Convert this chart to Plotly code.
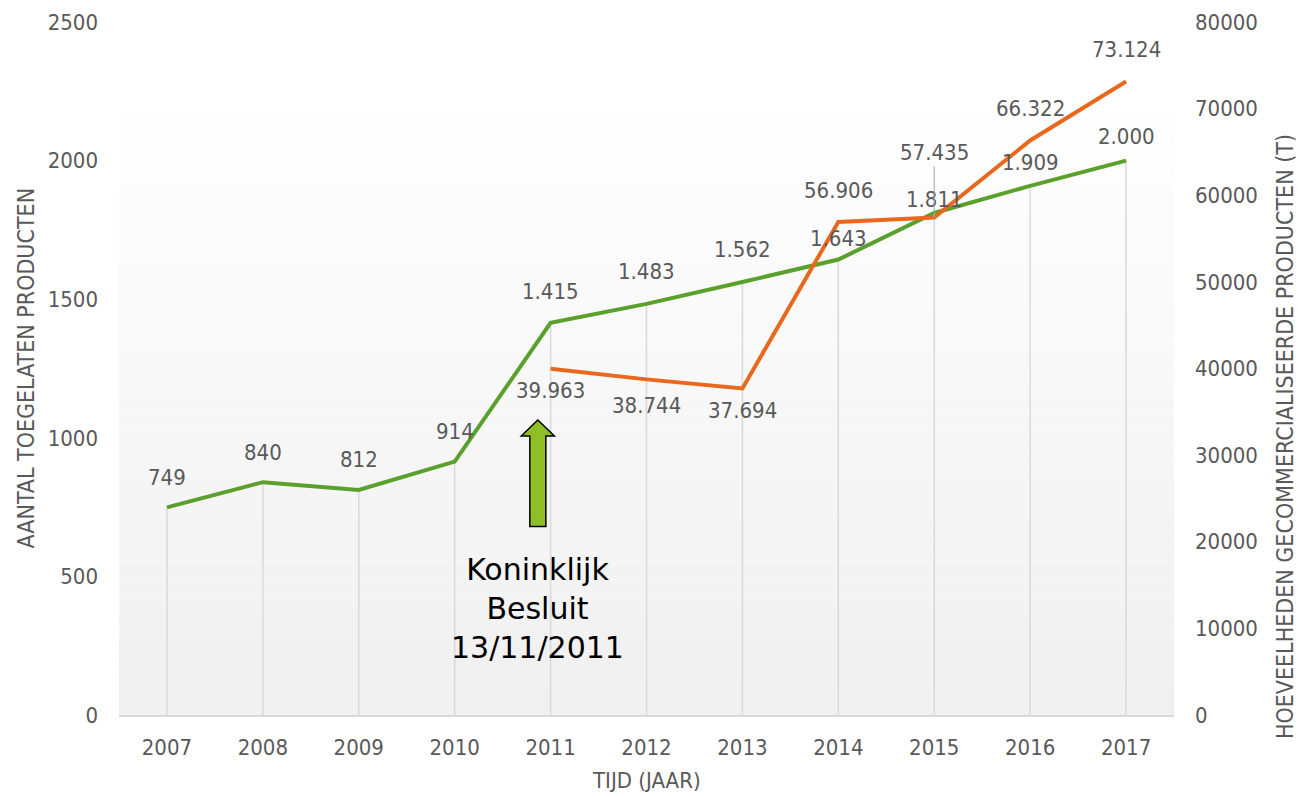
import plotly.graph_objects as go

years = ["2007", "2008", "2009", "2010", "2011", "2012", "2013", "2014", "2015", "2016", "2017"]
toegelaten = [749, 840, 812, 914, 1415, 1483, 1562, 1643, 1811, 1909, 2000]
hoeveelheid_years = ["2011", "2012", "2013", "2014", "2015", "2016", "2017"]
hoeveelheid = [39963, 38744, 37694, 56906, 57435, 66322, 73124]

left_ticks = [0, 500, 1000, 1500, 2000, 2500]
right_ticks = [0, 10000, 20000, 30000, 40000, 50000, 60000, 70000, 80000]

# label pixel offsets (style)
green_shift = [30, 30, 30, 30, 31, 32, 33, 21, 13, 23, 24]
orange_shift = [-22, -26, -22, 32, 65, 32, 32]

GREEN = "#5aa02c"
ORANGE = "#e8691e"
GRAY_TXT = "#595959"
COND = "DejaVu Sans Condensed, DejaVu Sans, sans-serif"
LABEL_FONT = dict(family=COND, size=22, color=GRAY_TXT)

def fmt(v):
    return f"{v:,}".replace(",", ".")

fig = go.Figure()

# gradient background bands
nb = 40
top = 0.87
shapes = []
for i in range(nb):
    y0 = top * i / nb
    y1 = top * (i + 1) / nb
    t = i / (nb - 1)
    c = int(round(240 + (254 - 240) * t))
    shapes.append(dict(type="rect", xref="paper", yref="paper", x0=0, x1=1, y0=y0, y1=y1,
                       fillcolor=f"rgb({c},{c},{c})", line=dict(width=0), layer="below"))

# drop lines
dx, dy = [], []
for yr, v in zip(years, toegelaten):
    dx += [yr, yr, None]
    dy += [0, v, None]
fig.add_trace(go.Scatter(x=dx, y=dy, mode="lines", line=dict(color="#d9d9d9", width=1.5),
                         hoverinfo="skip", showlegend=False, connectgaps=False))

fig.add_trace(go.Scatter(x=years, y=toegelaten, mode="lines", line=dict(color=GREEN, width=4),
                         name="Aantal toegelaten producten", showlegend=False))
fig.add_trace(go.Scatter(x=hoeveelheid_years, y=hoeveelheid, mode="lines", yaxis="y2",
                         line=dict(color=ORANGE, width=4),
                         name="Hoeveelheden", showlegend=False))

annotations = []
for yr, v, s in zip(years, toegelaten, green_shift):
    annotations.append(dict(x=years.index(yr), y=v, xref="x", yref="y", text=fmt(v), showarrow=False,
                            yshift=s, xanchor="center", yanchor="middle", font=LABEL_FONT))
for yr, v, s in zip(hoeveelheid_years, hoeveelheid, orange_shift):
    xi = years.index(yr)
    if s > 50:
        annotations.append(dict(x=xi, y=v, xref="x", yref="y2", text=fmt(v), showarrow=True,
                                arrowhead=0, arrowwidth=1, arrowcolor="#a6a6a6", ax=0, ay=-s,
                                standoff=0, font=LABEL_FONT))
    else:
        annotations.append(dict(x=xi, y=v, xref="x", yref="y2", text=fmt(v), showarrow=False,
                                yshift=s, xanchor="center", yanchor="middle", font=LABEL_FONT))

# Koninklijk Besluit annotation
annotations.append(dict(x=0.397, y=0.154, xref="paper", yref="paper", showarrow=False,
                        xanchor="center", yanchor="middle",
                        text="Koninklijk<br>Besluit<br>13/11/2011",
                        font=dict(family="DejaVu Sans, sans-serif", size=30, color="#000000"),
                        align="center"))

# axis titles
annotations.append(dict(x=0, y=0.5, xref="paper", yref="paper", xshift=-94, showarrow=False,
                        xanchor="center", yanchor="middle",
                        text="AANTAL TOEGELATEN PRODUCTEN", textangle=-90,
                        font=dict(family=COND, size=23, color=GRAY_TXT)))
annotations.append(dict(x=1, y=0.401, xref="paper", yref="paper", xshift=111, showarrow=False,
                        xanchor="center", yanchor="middle",
                        text="HOEVEELHEDEN GECOMMERCIALISEERDE PRODUCTEN (T)", textangle=-90,
                        font=dict(family=COND, size=23, color=GRAY_TXT)))
annotations.append(dict(x=0.5, y=0, xref="paper", yref="paper", yshift=-65, showarrow=False,
                        xanchor="center", yanchor="middle",
                        text="TIJD (JAAR)", font=dict(family=COND, size=22, color=GRAY_TXT)))

# block arrow
cx = 0.397
tip, base, bottom = 0.4257, 0.4026, 0.272
hw, sw = 0.0157, 0.0076
path = (f"M {cx} {tip} L {cx+hw} {base} L {cx+sw} {base} L {cx+sw} {bottom} "
        f"L {cx-sw} {bottom} L {cx-sw} {base} L {cx-hw} {base} Z")
shapes.append(dict(type="path", xref="paper", yref="paper", path=path,
                   fillcolor="#8fbf26", line=dict(color="#000000", width=1.5), layer="above"))

fig.update_layout(
    width=1299, height=797,
    margin=dict(l=119, r=125, t=22, b=82, autoexpand=False),
    paper_bgcolor="white", plot_bgcolor="white",
    shapes=shapes, annotations=annotations,
    xaxis=dict(type="category", categoryorder="array", categoryarray=years,
               range=[-0.5, len(years) - 0.5], showgrid=False, showline=True,
               linecolor="#d9d9d9", linewidth=1.5,
               ticks="", ticklabelstandoff=12, zeroline=False,
               tickfont=dict(family=COND, size=22, color=GRAY_TXT)),
    yaxis=dict(range=[0, 2500], tickvals=left_ticks, ticktext=[str(t) for t in left_ticks],
               showgrid=False, zeroline=False,
               showline=False, ticks="", ticklabelstandoff=20,
               tickfont=dict(family=COND, size=22, color=GRAY_TXT)),
    yaxis2=dict(range=[0, 80000], tickvals=right_ticks, ticktext=[str(t) for t in right_ticks],
                overlaying="y", side="right",
                showgrid=False, zeroline=False, showline=False, ticks="", ticklabelstandoff=20,
                tickfont=dict(family=COND, size=22, color=GRAY_TXT)),
    showlegend=False,
)

fig.write_html("out.html", config={"displayModeBar": False},
               post_script="document.body.style.margin='0';document.body.style.overflow='hidden';")
